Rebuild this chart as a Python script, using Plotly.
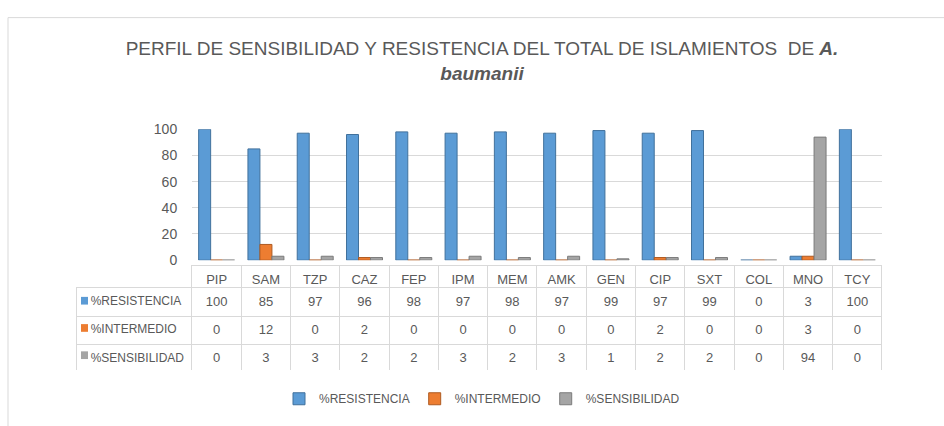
import plotly.graph_objects as go

categories = ["PIP", "SAM", "TZP", "CAZ", "FEP", "IPM", "MEM", "AMK", "GEN", "CIP", "SXT", "COL", "MNO", "TCY"]
resistencia = [100, 85, 97, 96, 98, 97, 98, 97, 99, 97, 99, 0, 3, 100]
intermedio = [0, 12, 0, 2, 0, 0, 0, 0, 0, 2, 0, 0, 3, 0]
sensibilidad = [0, 3, 3, 2, 2, 3, 2, 3, 1, 2, 2, 0, 94, 0]
series_names = ["%RESISTENCIA", "%INTERMEDIO", "%SENSIBILIDAD"]
y_ticks = [0, 20, 40, 60, 80, 100]

colors = ["#5B9BD5", "#ED7D31", "#A5A5A5"]
edges = ["#41719C", "#AE5A21", "#7B7B7B"]
FONT = "Liberation Sans, Arial, sans-serif"
TXT = "#595959"
W, H = 944, 426
CLEAR = "rgba(0,0,0,0)"

fig = go.Figure()
for name, vals, c, e in zip(series_names, [resistencia, intermedio, sensibilidad], colors, edges):
    fig.add_trace(go.Bar(
        x=categories, y=vals, name=name,
        marker=dict(color=c, line=dict(color=e, width=1)),
        xaxis="x", yaxis="y",
    ))

# data table under the chart
tab_top, head_h, row_h = 268, 22, 28.3
row_labels = ["\u00a0\u00a0" + n for n in series_names]
cols = [row_labels] + [[str(r), str(i), str(s)] for r, i, s in zip(resistencia, intermedio, sensibilidad)]
fig.add_trace(go.Table(
    domain=dict(x=[76 / W, 882 / W], y=[1 - (tab_top + head_h + 3 * row_h + 2) / H, 1 - tab_top / H]),
    columnwidth=[116] + [49.3] * len(categories),
    header=dict(
        values=[""] + categories,
        fill_color=[CLEAR] + ["white"] * len(categories),
        line=dict(color=[CLEAR] + ["#D9D9D9"] * len(categories), width=1),
        font=dict(family=FONT, size=13, color=TXT),
        align="center",
        height=head_h,
    ),
    cells=dict(
        values=cols,
        fill_color="white",
        line=dict(color="#D9D9D9", width=1),
        font=dict(family=FONT, size=[12] + [13] * len(categories), color=TXT),
        align=["left"] + ["center"] * len(categories),
        height=row_h,
    ),
))

# colour keys in the table's first column (legend keys, one per series)
key_shapes = []
for k, c in enumerate(colors):
    cy = tab_top + head_h + row_h * (k + 0.5)
    key_shapes.append(dict(
        type="rect", xref="paper", yref="paper",
        x0=81 / W, x1=88 / W, y0=1 - (cy + 4) / H, y1=1 - (cy - 4) / H,
        fillcolor=c, line=dict(width=0), layer="above",
    ))

fig.update_layout(
    width=W, height=H,
    margin=dict(l=0, r=0, t=0, b=0),
    paper_bgcolor="white", plot_bgcolor="white",
    barmode="group", bargap=0.27, bargroupgap=0,
    font=dict(family=FONT, color=TXT),
    title=dict(
        text="PERFIL DE SENSIBILIDAD Y RESISTENCIA DEL TOTAL DE ISLAMIENTOS  DE <b><i>A.</i></b><br><b><i>baumanii</i></b>",
        x=482 / W, xanchor="center", y=1 - 55 / H, yanchor="middle",
        font=dict(family=FONT, size=19, color=TXT),
    ),
    xaxis=dict(
        domain=[192 / W, 882 / W], showticklabels=False, showgrid=False,
        zeroline=False, showline=False, ticks="",
    ),
    yaxis=dict(
        domain=[1 - 262 / H, 1 - 126 / H], range=[0, 100], tickvals=y_ticks,
        showgrid=True, gridcolor="#D9D9D9", gridwidth=1, zeroline=False,
        showline=False, ticks="outside", ticklen=11, tickcolor=CLEAR,
        tickfont=dict(family=FONT, size=14, color=TXT),
    ),
    legend=dict(
        orientation="h", x=482 / W, xanchor="center", y=1 - 406 / H, yanchor="middle",
        font=dict(family=FONT, size=12, color=TXT), itemwidth=30,
        bgcolor=CLEAR,
    ),
    shapes=[dict(
        type="rect", xref="paper", yref="paper",
        x0=8 / W, x1=1.05, y0=-0.05, y1=1 - 10 / H,
        line=dict(color="#D9D9D9", width=1), fillcolor=CLEAR, layer="below",
    )] + key_shapes,
)

fig.write_html(
    "out.html",
    config={"displayModeBar": False},
    post_script="document.body.style.margin='0';document.body.style.overflow='hidden';",
)
